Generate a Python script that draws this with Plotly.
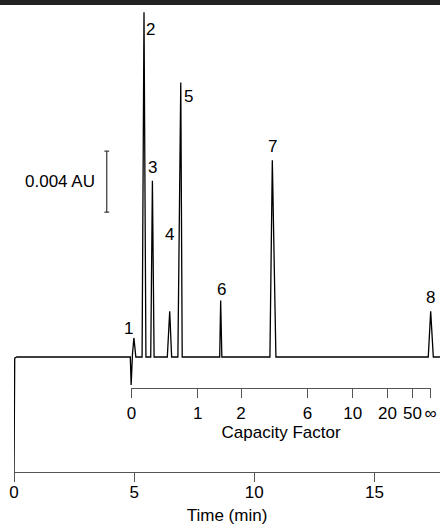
import plotly.graph_objects as go

# ---------------- data ----------------
# chromatogram vertices: time (min), absorbance (AU, relative to baseline)
trace_time = [0.0, 0.0, 0.03, 0.12, 4.84, 4.875, 4.90, 4.93, 4.99, 5.07,
              5.33, 5.41, 5.49,
              5.69, 5.76, 5.83,
              6.38, 6.48, 6.56,
              6.82, 6.94, 7.00,
              8.56, 8.60, 8.65,
              10.65, 10.75, 10.90,
              17.24, 17.34, 17.45, 17.73]
trace_au = [-0.00754, -0.0006, -0.00008, 0.0, 0.0, -0.00184, 0.0, 0.0002, 0.00125, 0.0,
            0.0, 0.0226, 0.0,
            0.0, 0.01155, 0.0,
            0.0, 0.0030, 0.0,
            0.0, 0.0180, 0.0,
            0.0, 0.0037, 0.0,
            0.0, 0.0129, 0.0,
            0.0, 0.0030, 0.0, 0.0]

peak_labels = ["1", "2", "3", "4", "5", "6", "7", "8"]
peak_time = [4.99, 5.41, 5.76, 6.48, 6.94, 8.60, 10.75, 17.34]
peak_au = [0.00125, 0.0226, 0.01155, 0.0030, 0.0180, 0.0037, 0.0129, 0.0030]

time_ticks = [0, 5, 10, 15]
cap_tick_time = [4.886, 7.645, 9.447, 12.21, 14.095, 15.539, 16.58, 17.34]
cap_tick_text = ["0", "1", "2", "6", "10", "20", "50", "\u221e"]

scale_au = 0.004
scale_time = 3.86
scale_bottom_au = 0.0095

# ---------------- figure ----------------
FONT = "Arial, Liberation Sans, Helvetica, sans-serif"
W, H = 440, 527
ML, MB = 14, 55
x_range = [0, 17.728]
y_range = [-0.007541, 0.02341]

fig = go.Figure()
fig.add_trace(go.Scatter(x=trace_time, y=trace_au, mode="lines",
                         line=dict(color="black", width=1.3),
                         hoverinfo="skip", showlegend=False))

# scale bar
cap = 0.1
sb_x = [scale_time, scale_time, None, scale_time - cap, scale_time + cap, None,
        scale_time - cap, scale_time + cap]
sb_y = [scale_bottom_au, scale_bottom_au + scale_au, None,
        scale_bottom_au, scale_bottom_au, None,
        scale_bottom_au + scale_au, scale_bottom_au + scale_au]
fig.add_trace(go.Scatter(x=sb_x, y=sb_y, mode="lines",
                         line=dict(color="#333", width=1.2),
                         hoverinfo="skip", showlegend=False))

# invisible trace to host the capacity-factor axis
fig.add_trace(go.Scatter(x=cap_tick_time, y=[0] * len(cap_tick_time),
                         xaxis="x2", yaxis="y", mode="markers",
                         marker=dict(opacity=0), hoverinfo="skip",
                         showlegend=False))

offsets = [(-5, 9), (6, -17), (0, 13), (0, 77), (8, -14), (1, 11), (0, 14), (0, 14)]
for lab, t, a, (dx, dy) in zip(peak_labels, peak_time, peak_au, offsets):
    fig.add_annotation(x=t, y=a, text=lab, showarrow=False,
                       xshift=dx, yshift=dy, xanchor="center", yanchor="middle",
                       font=dict(family=FONT, size=17, color="black"))

fig.add_annotation(x=scale_time, y=scale_bottom_au + scale_au / 2, text="0.004 AU",
                   showarrow=False, xanchor="right", yanchor="middle", xshift=-10,
                   font=dict(family=FONT, size=17, color="black"))

plot_w = W - ML
d0 = (cap_tick_time[0] - x_range[0]) / (x_range[1] - x_range[0])
d1 = (cap_tick_time[-1] - x_range[0]) / (x_range[1] - x_range[0])

fig.update_layout(
    width=W, height=H,
    margin=dict(l=ML, r=0, t=0, b=MB, autoexpand=False),
    paper_bgcolor="white", plot_bgcolor="rgba(0,0,0,0)",
    showlegend=False,
    font=dict(family=FONT, size=17, color="black"),
    xaxis=dict(range=x_range, domain=[0, 1], showgrid=False, zeroline=False,
               automargin=False,
               showline=True, linecolor="#555", linewidth=1.2,
               ticks="outside", ticklen=9, tickcolor="#555", tickwidth=1.2,
               tickvals=time_ticks, ticktext=[str(v) for v in time_ticks],
               ticklabelstandoff=-5,
               tickfont=dict(family=FONT, size=17, color="black"),
               title=dict(text="Time (min)", standoff=8,
                          font=dict(family=FONT, size=17, color="black"))),
    xaxis2=dict(range=[cap_tick_time[0], cap_tick_time[-1]], domain=[d0, d1],
                anchor="free", position=(472 - 388.3) / 472,
                automargin=False,
                showgrid=False, zeroline=False,
                showline=True, linecolor="#555", linewidth=1.2,
                ticks="outside", ticklen=9, tickcolor="#555", tickwidth=1.2,
                tickvals=cap_tick_time, ticktext=cap_tick_text,
                tickfont=dict(family=FONT, size=17, color="black"),
                title=dict(text="Capacity Factor", standoff=2,
                           font=dict(family=FONT, size=17, color="black"))),
    yaxis=dict(range=y_range, domain=[0, 1], visible=False, automargin=False),
)

# top border band
fig.add_shape(type="rect", xref="paper", yref="paper",
              x0=-ML / plot_w, x1=1.0, y0=1 - 5 / 472, y1=1.0,
              line=dict(width=0), fillcolor="#222", layer="above")

fig.write_html("out.html")
